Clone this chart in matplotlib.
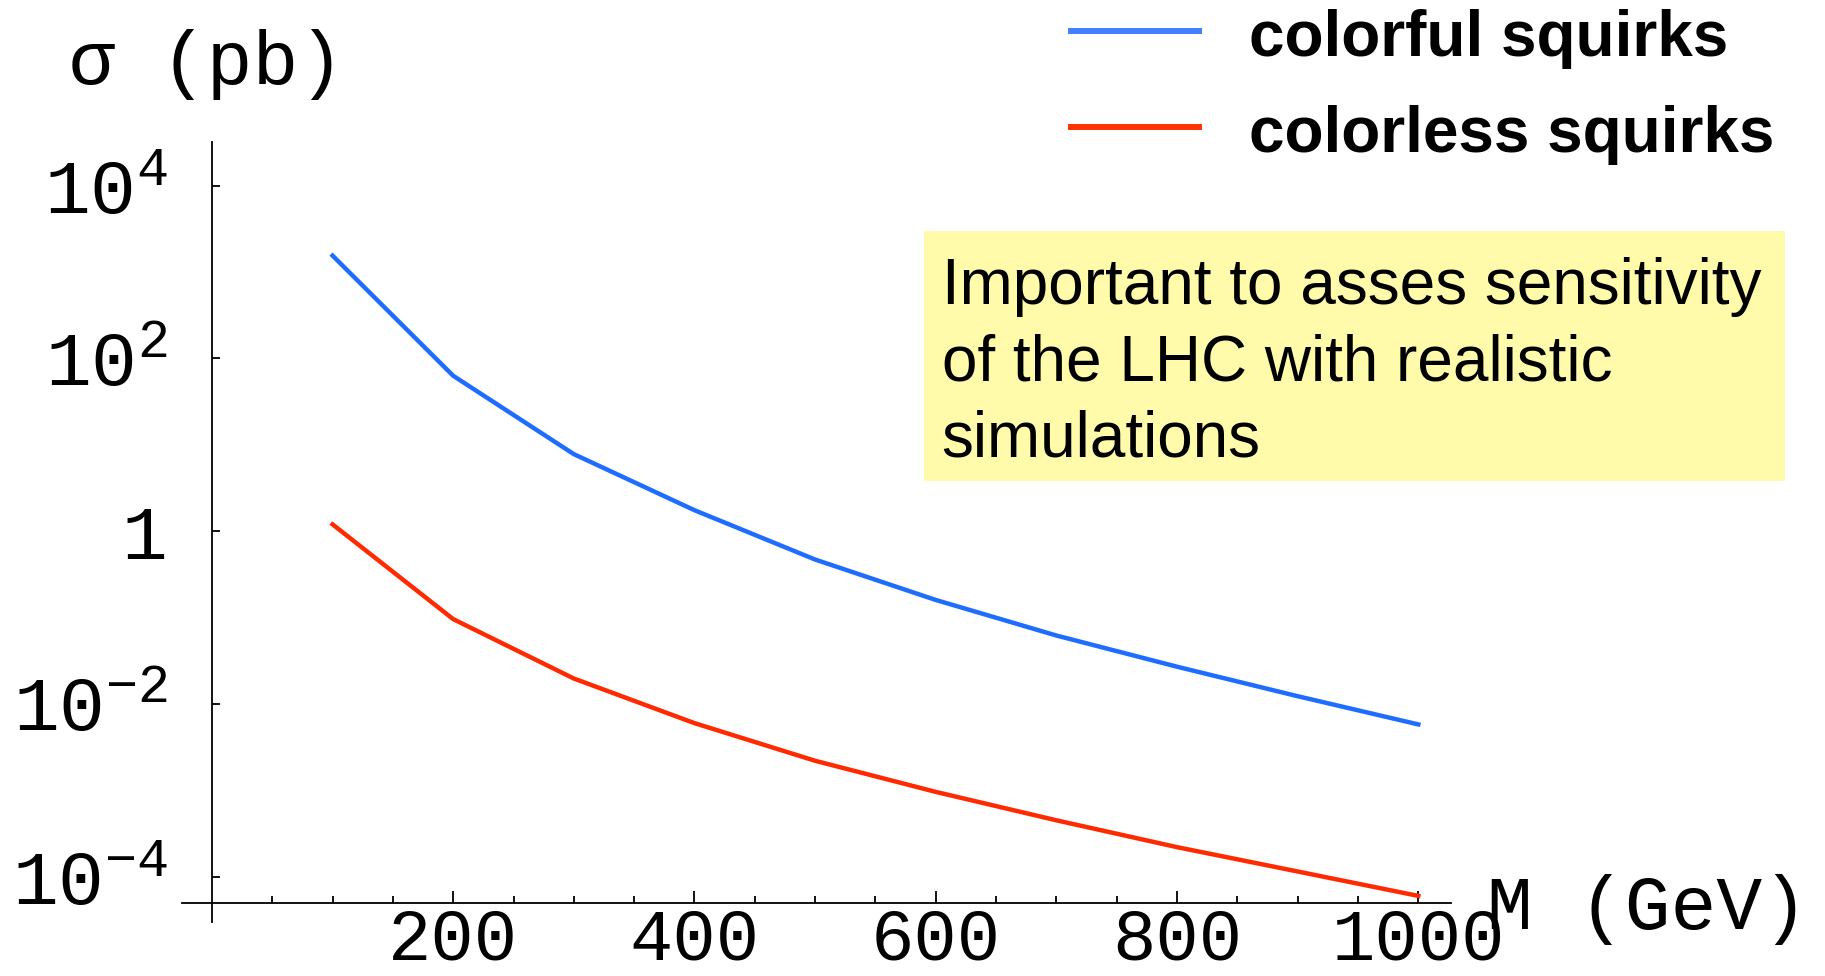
import numpy as np
import matplotlib.pyplot as plt
from matplotlib.patches import Rectangle
from matplotlib.lines import Line2D
from matplotlib.ticker import FixedLocator, NullFormatter

plt.rcParams['mathtext.fontset'] = 'custom'
plt.rcParams['mathtext.rm'] = 'Liberation Mono'
plt.rcParams['mathtext.it'] = 'Liberation Mono'

MASS = [100, 200, 300, 400, 500, 600, 700, 800, 900, 1000]
SIGMA_COLORFUL = [1550, 63, 7.8, 1.75, 0.47, 0.16, 0.062, 0.027, 0.0123, 0.0058]
SIGMA_COLORLESS = [1.2, 0.096, 0.0197, 0.006, 0.0022, 0.00096, 0.00045, 0.00022, 0.000115, 0.00006]

Y_TICKS = [1e-4, 1e-2, 1, 1e2, 1e4]
Y_TICK_LABELS = [r'$10^{-4}$', r'$10^{-2}$', '1', r'$10^{2}$', r'$10^{4}$']
X_TICKS = [200, 400, 600, 800, 1000]
X_MINOR = [50, 100, 150, 250, 300, 350, 450, 500, 550, 650, 700, 750, 850, 900, 950]

LEGEND_LABELS = ['colorful squirks', 'colorless squirks']
NOTE_LINES = ['Important to asses sensitivity', 'of the LHC with realistic', 'simulations']

BLUE = '#1f6dff'
RED = '#ff2a00'
MONO = 'Liberation Mono'
SANS = 'Liberation Sans'
LABEL_SIZE = 55

fig = plt.figure(figsize=(18.25, 9.76), dpi=100)
ax = fig.add_axes([0.0996, 0.0556, 0.6954, 0.7992])

ax.plot(MASS, SIGMA_COLORFUL, color=BLUE, lw=3.2, solid_joinstyle='round')
ax.plot(MASS, SIGMA_COLORLESS, color=RED, lw=3.2, solid_joinstyle='round')

ax.set_yscale('log')
ax.set_xlim(-25, 1027)
ax.set_ylim(10 ** -4.521, 10 ** 4.509)

# Mathematica style crossing axes
ax.spines['left'].set_position(('data', 0))
ax.spines['bottom'].set_position(('data', 10 ** -4.30))
ax.spines['top'].set_visible(False)
ax.spines['right'].set_visible(False)
for s in ['left', 'bottom']:
    ax.spines[s].set_linewidth(1.3)

ax.yaxis.set_major_locator(FixedLocator(Y_TICKS))
ax.yaxis.set_minor_locator(FixedLocator([]))
ax.set_yticklabels(Y_TICK_LABELS, fontsize=LABEL_SIZE, family=MONO)
ax.xaxis.set_major_locator(FixedLocator(X_TICKS))
ax.xaxis.set_minor_locator(FixedLocator(X_MINOR))
ax.xaxis.set_minor_formatter(NullFormatter())
ax.set_xticklabels([str(v) for v in X_TICKS], fontsize=52, family=MONO)

ax.tick_params(axis='y', which='major', direction='in', length=6, width=1.3, pad=32)
ax.tick_params(axis='x', which='major', direction='in', length=9, width=1.3, pad=3)
ax.tick_params(axis='x', which='minor', direction='in', length=5, width=1.3)

fig.text(0.038, 0.934, 'σ (pb)', fontsize=LABEL_SIZE, family=MONO, va='center', ha='left')
fig.text(0.815, 0.068, 'M (GeV)', fontsize=LABEL_SIZE, family=MONO, va='center', ha='left')

# legend drawn by hand, as on the slide
legend_y = [0.9686, 0.8699]
for label, col, yl in zip(LEGEND_LABELS, ['#4080ff', '#ff3300'], legend_y):
    fig.add_artist(Line2D([0.5868, 0.657], [yl, yl], color=col, lw=4.3,
                          transform=fig.transFigure))
    fig.text(0.6844, yl - 0.026, label, fontsize=46, family=SANS,
             fontweight='bold', va='baseline', ha='left')

fig.add_artist(Rectangle((0.5063, 0.5072), 0.4718, 0.2561, transform=fig.transFigure,
                         facecolor='#fffbaa', edgecolor='none'))
for i, line in enumerate(NOTE_LINES):
    fig.text(0.5160, 0.6885 - i * 0.0779, line, fontsize=46, family=SANS,
             va='baseline', ha='left')

fig.savefig('out.png', dpi=100)
